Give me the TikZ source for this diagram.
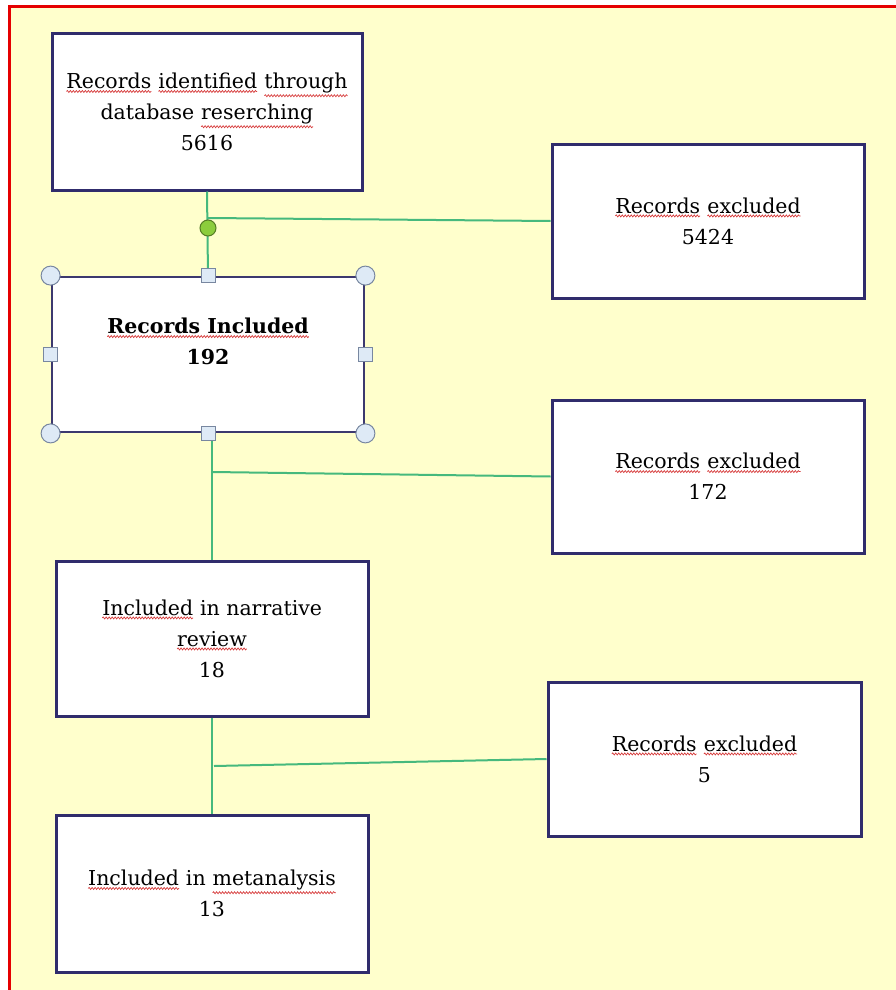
\documentclass[tikz,border=0pt]{standalone}
\usepackage{fontspec}
\setmainfont{DejaVu Serif}
\usetikzlibrary{decorations.pathmorphing}
\definecolor{bgyellow}{RGB}{255,255,204}
\definecolor{navy}{RGB}{48,44,108}
\definecolor{conn}{RGB}{70,185,125}
\definecolor{handlefill}{RGB}{222,234,246}
\definecolor{handledraw}{RGB}{120,135,160}
\definecolor{rotgreen}{RGB}{140,205,60}
\definecolor{spellred}{RGB}{215,60,60}
\tikzset{wordnode/.style={draw=none, fill=none, minimum width=0pt, minimum height=0pt,
  inner sep=0pt, outer sep=0pt, text depth=, text height=, shape=rectangle}}
\newcommand\rwave[1]{\tikz[baseline=(w.base), x=1pt, y=1pt]{\node[wordnode] (w) {#1};
  \draw[spellred, line width=0.7pt, decorate, decoration={snake, amplitude=1pt, segment length=3pt}]
   ([yshift=-2.5pt]w.south west) -- ([yshift=-2.5pt]w.south east);}}
\begin{document}
\begin{tikzpicture}[x=1pt,y=-1pt,
  box/.style={draw=navy, line width=3pt, fill=white, minimum width=310pt, minimum height=155pt,
    align=center, font=\fontsize{20.5}{31}\selectfont, inner sep=0pt},
  link/.style={draw=conn, line width=2pt},
  cornerh/.style={circle, draw=handledraw, fill=handlefill, line width=1pt, minimum size=19pt, inner sep=0pt},
  sideh/.style={rectangle, draw=handledraw, fill=handlefill, line width=1pt, minimum size=14pt, inner sep=0pt}]
\useasboundingbox (0,0) rectangle (896,990);
\fill[white] (0,0) rectangle (896,990);
\fill[bgyellow] (9,6) rectangle (896,990);
\draw[red!90!black, line width=3pt] (9.5,990) -- (9.5,6.5) -- (896,6.5);

\node[box, minimum height=156pt] (b1) at (207,112) {\rwave{Records}~\rwave{identified}~\rwave{through}\\database~\rwave{reserching}\\5616};
\node[box, minimum width=312pt, minimum height=154pt] (b2) at (708,221) {\rwave{Records}~\rwave{excluded}\\5424};
\node[box, minimum width=312pt, line width=2.8pt, draw=navy!85!gray] (b3) at (208,354.5) {\bfseries\rwave{Records Included}\\\bfseries 192\\[-5pt]~};
\node[box, minimum width=312pt, minimum height=153pt] (b4) at (708,476.5) {\rwave{Records}~\rwave{excluded}\\172};
\node[box, minimum width=312pt] (b5) at (212,638.5) {\rwave{Included}~in~narrative\\\rwave{review}\\18};
\node[box, minimum width=313pt, minimum height=154pt] (b6) at (704.5,759) {\rwave{Records}~\rwave{excluded}\\5};
\node[box, minimum width=312pt, minimum height=157pt] (b7) at (212,893.5) {\rwave{Included}~in~\rwave{metanalysis}\\13};

\coordinate (j1) at (208,218);
\coordinate (j2) at (212,472);
\coordinate (j3) at (214,766);

\draw[link] (b1.south) -- (b3.north);
\draw[link] (j1) -- (b2.west);
\draw[link] (b5.north |- b3.south) -- (b5.north);
\draw[link] (j2) -- (b4.west);
\draw[link] (b5.south) -- (b7.north);
\draw[link] (j3) -- (b6.west);

\node[circle, draw=rotgreen!60!black, fill=rotgreen, line width=1pt, minimum size=16pt, inner sep=0pt] (rot) at (208,228) {};
\node[cornerh] (h1) at (b3.north west) {};
\node[cornerh] (h2) at (b3.north east) {};
\node[cornerh] (h3) at (b3.south west) {};
\node[cornerh] (h4) at (b3.south east) {};
\node[sideh] (s1) at (b3.north) {};
\node[sideh] (s2) at (b3.south) {};
\node[sideh] (s3) at (b3.west) {};
\node[sideh] (s4) at (b3.east) {};
\end{tikzpicture}
\end{document}
